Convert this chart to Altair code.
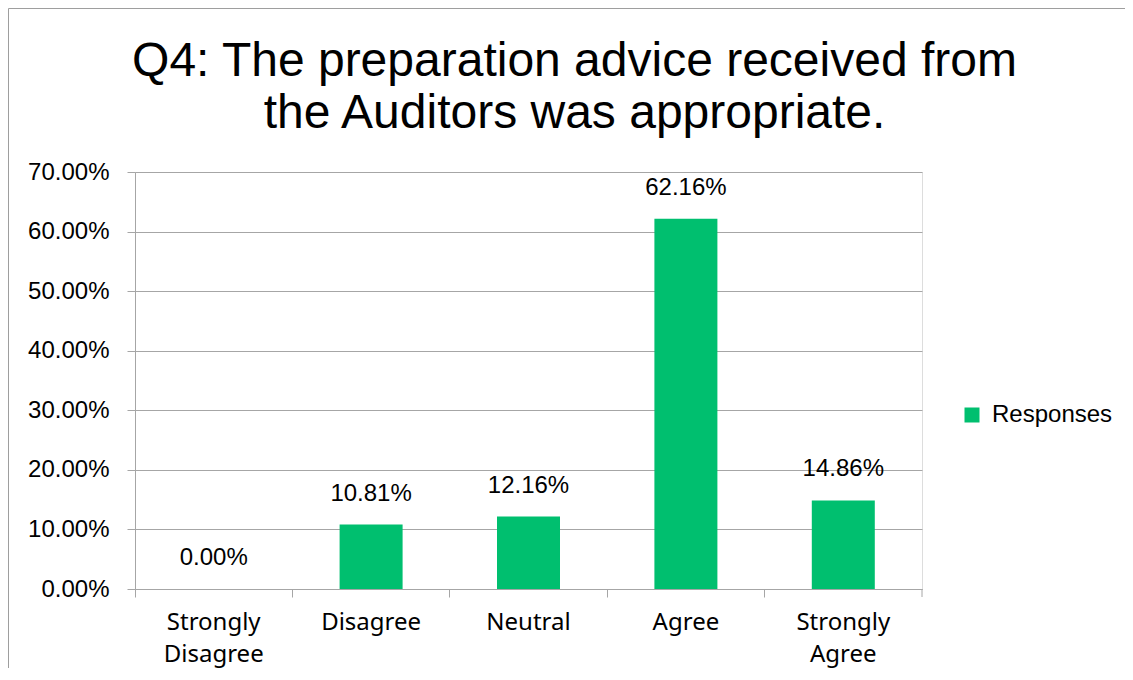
import altair as alt
import pandas as pd

categories = ["Strongly Disagree", "Disagree", "Neutral", "Agree", "Strongly Agree"]
values = [0.0, 0.1081, 0.1216, 0.6216, 0.1486]
series_name = "Responses"
y_ticks = [0.0, 0.1, 0.2, 0.3, 0.4, 0.5, 0.6, 0.7]
title_lines = ["Q4: The preparation advice received from", "the Auditors was appropriate."]

df = pd.DataFrame({"category": categories, "value": values, "series": [series_name] * len(categories)})

W, H = 787, 417
GREEN = "#00BF6F"
GRAY = "#A6A6A6"
NUM_FONT = "Liberation Sans"
CAT_FONT = "Noto Sans"

x_enc = alt.X(
    "category:N",
    sort=categories,
    scale=alt.Scale(paddingInner=0, paddingOuter=0),
    axis=alt.Axis(
        title=None,
        labelAngle=0,
        bandPosition=0,
        labelExpr="split(datum.label, ' ')",
        labelFont=CAT_FONT,
        labelFontSize=24,
        labelColor="black",
        labelLineHeight=32,
        labelPadding=13,
        tickSize=8,
        tickColor=GRAY,
        domainColor=GRAY,
        grid=False,
    ),
)
y_enc = alt.Y(
    "value:Q",
    scale=alt.Scale(domain=[0, 0.7], nice=False),
    axis=alt.Axis(
        title=None,
        values=y_ticks,
        format=".2%",
        labelFont=NUM_FONT,
        labelFontSize=24,
        labelColor="black",
        labelPadding=18,
        tickSize=8,
        tickColor=GRAY,
        domainColor=GRAY,
        grid=True,
        gridColor=GRAY,
    ),
)

base = alt.Chart(df)

bars = base.mark_bar(size=63).encode(
    x=x_enc,
    y=y_enc,
    color=alt.Color(
        "series:N",
        scale=alt.Scale(range=[GREEN]),
        legend=alt.Legend(
            title=None,
            orient="none",
            legendX=825,
            legendY=231,
            symbolType="square",
            symbolSize=225,
            symbolStrokeWidth=0,
            labelFont=NUM_FONT,
            labelFontSize=24,
            labelColor="black",
            labelOffset=8,
        ),
    ),
)

labels = base.mark_text(
    baseline="bottom", dy=-19, font=NUM_FONT, fontSize=24, color="black"
).encode(
    x=alt.X("category:N", sort=categories),
    y="value:Q",
    text=alt.Text("value:Q", format=".2%"),
)

deco = alt.Data(values=[{}])
end_tick = alt.Chart(deco).mark_rule(color=GRAY).encode(
    x=alt.value(W), y=alt.value(H), y2=alt.value(H + 8)
)
border_top = alt.Chart(deco).mark_rule(color="#9E9E9E", strokeWidth=1).encode(
    x=alt.value(-126.5), x2=alt.value(1400), y=alt.value(-163.5)
)
border_left = alt.Chart(deco).mark_rule(color="#9E9E9E", strokeWidth=1).encode(
    x=alt.value(-126.5), y=alt.value(-163.5), y2=alt.value(900)
)

chart = alt.layer(border_top, border_left, bars, labels, end_tick).properties(
    width=W,
    height=H,
    autosize=alt.AutoSizeParams(type="none"),
    padding={"left": 127, "top": 164, "right": 1117 - 127 - W, "bottom": 660 - 164 - H},
    title=alt.TitleParams(
        text=title_lines,
        font=NUM_FONT,
        fontSize=48,
        fontWeight="normal",
        color="black",
        anchor="middle",
        frame="group",
        dx=46,
        dy=150,
        offset=20,
        lineHeight=52,
    ),
).configure_view(stroke=None).configure(background="white")

chart.save("out.html", embed_options={"renderer": "svg", "actions": False})
